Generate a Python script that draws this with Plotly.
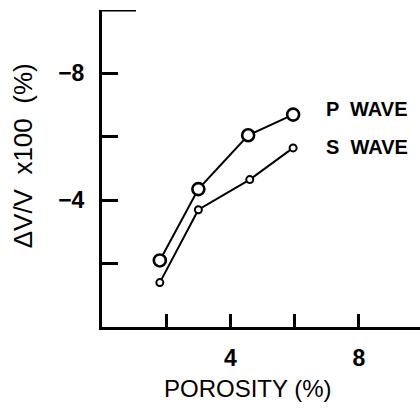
import plotly.graph_objects as go

# Data
porosity_p = [1.8, 3.0, 4.55, 5.95]
dv_p = [-2.1, -4.35, -6.05, -6.7]
porosity_s = [1.8, 3.0, 4.6, 5.95]
dv_s = [-1.4, -3.7, -4.65, -5.65]

x_tickvals = [2, 4, 6, 8]
x_ticktext = ["", "4", "", "8"]
y_tickvals = [-8, -6, -4, -2]
y_ticktext = ["\u22128", "", "\u22124", ""]

FONT = "Liberation Sans, Arial, sans-serif"

fig = go.Figure()
fig.add_trace(go.Scatter(
    x=porosity_p, y=dv_p, mode="lines+markers", name="P WAVE",
    line=dict(color="black", width=2),
    marker=dict(symbol="circle", size=12, color="white",
                line=dict(color="black", width=2.6)),
))
fig.add_trace(go.Scatter(
    x=porosity_s, y=dv_s, mode="lines+markers", name="S WAVE",
    line=dict(color="black", width=2),
    marker=dict(symbol="circle", size=7, color="white",
                line=dict(color="black", width=2)),
))

tickfont = dict(family=FONT, size=23, color="black", weight="bold")

fig.update_layout(
    width=420, height=409,
    margin=dict(l=102, r=0, t=10, b=82, pad=0),
    paper_bgcolor="white", plot_bgcolor="white",
    showlegend=False,
    xaxis=dict(
        range=[0, 9.9], showgrid=False, zeroline=False,
        showline=True, linecolor="black", linewidth=3,
        ticks="inside", ticklen=13, tickwidth=3, tickcolor="black",
        tickvals=x_tickvals, ticktext=x_ticktext,
        tickfont=tickfont, ticklabelstandoff=8,
    ),
    yaxis=dict(
        range=[0, -10], showgrid=False, zeroline=False,
        showline=True, linecolor="black", linewidth=3,
        ticks="inside", ticklen=16, tickwidth=3, tickcolor="black",
        tickvals=y_tickvals, ticktext=y_ticktext,
        tickfont=tickfont, ticklabelstandoff=10,
    ),
    annotations=[
        dict(text="POROSITY (%)", xref="paper", yref="paper", x=0.46, y=-0.195,
             xanchor="center", yanchor="middle", showarrow=False,
             font=dict(family=FONT, size=24, color="black")),
        dict(text="\u0394V/V  x100  (%)", xref="paper", yref="paper", x=-0.25, y=0.54,
             xanchor="center", yanchor="middle", showarrow=False, textangle=-90,
             font=dict(family=FONT, size=26, color="black")),
        dict(text="<b>P  WAVE</b>", xref="x", yref="y", x=6.9, y=-6.88,
             xanchor="left", yanchor="middle", showarrow=False,
             font=dict(family=FONT, size=20, color="black")),
        dict(text="<b>S  WAVE</b>", xref="x", yref="y", x=6.9, y=-5.69,
             xanchor="left", yanchor="middle", showarrow=False,
             font=dict(family=FONT, size=20, color="black")),
    ],
    shapes=[
        dict(type="line", xref="x domain", yref="y", x0=0, x1=0.107, y0=-10, y1=-10,
             line=dict(color="black", width=3)),
    ],
)

fig.write_html("out.html")
